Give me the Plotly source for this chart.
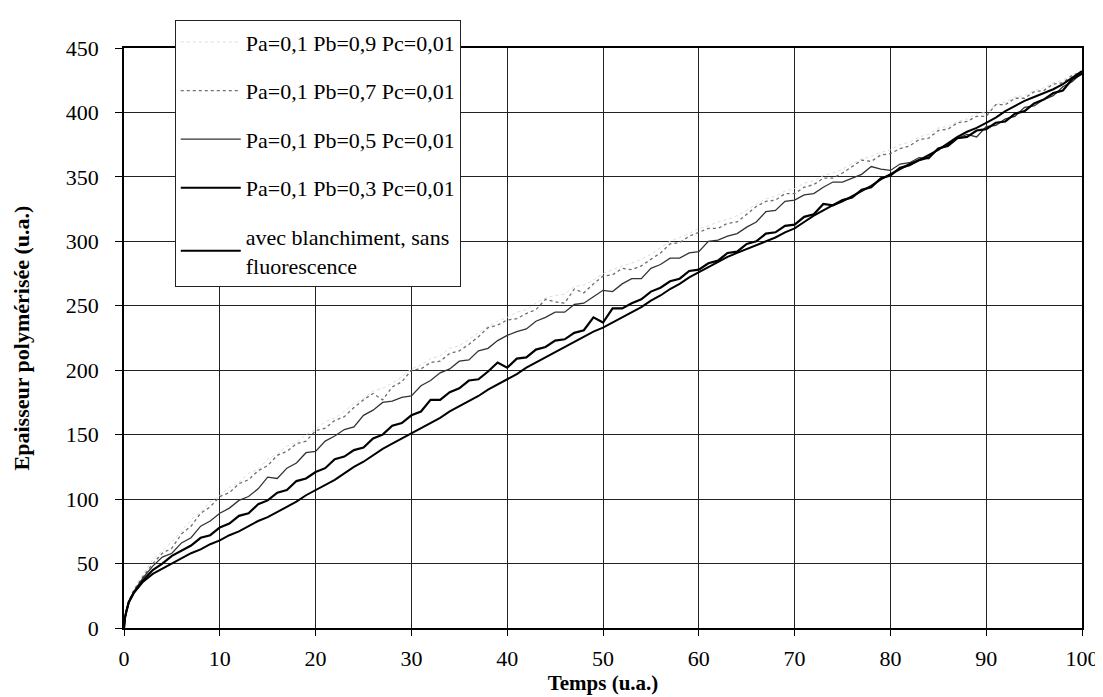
import plotly.graph_objects as go

# Sampling times (u.a.)
temps = [0, 0.1, 0.25, 0.5,
         1, 2, 3, 4, 5, 6, 7, 8, 9, 10, 11, 12, 13, 14, 15, 16, 17, 18, 19, 20,
         21, 22, 23, 24, 25, 26, 27, 28, 29, 30, 31, 32, 33, 34, 35, 36, 37, 38, 39, 40,
         41, 42, 43, 44, 45, 46, 47, 48, 49, 50, 51, 52, 53, 54, 55, 56, 57, 58, 59, 60,
         61, 62, 63, 64, 65, 66, 67, 68, 69, 70, 71, 72, 73, 74, 75, 76, 77, 78, 79, 80,
         81, 82, 83, 84, 85, 86, 87, 88, 89, 90, 91, 92, 93, 94, 95, 96, 97, 98, 99, 100]

pb09 = [0, 8, 14, 21,
        30, 42, 53, 60, 67, 75, 84, 90, 98, 103, 109, 113, 120, 123, 131, 135, 141, 144, 150, 154,
        160, 163, 168, 174, 178, 184, 186, 190, 195, 201, 204, 209, 211, 217, 219, 224, 229, 234, 238, 241,
        245, 247, 252, 256, 258, 259, 265, 266, 270, 275, 278, 281, 283, 286, 290, 295, 300, 303, 306, 310,
        312, 315, 317, 320, 324, 329, 333, 335, 339, 341, 345, 347, 351, 353, 356, 360, 364, 366, 369, 371,
        375, 377, 381, 383, 388, 389, 393, 395, 399, 400, 406, 408, 412, 413, 417, 419, 423, 425, 429, 432]

pb07 = [0, 8, 14, 21,
        29, 40, 50, 58, 62, 73, 79, 89, 94, 102, 105, 112, 115, 122, 126, 134, 137, 143, 145, 153,
        155, 161, 164, 171, 177, 182, 177, 187, 191, 200, 201, 206, 207, 213, 215, 220, 226, 233, 235, 239,
        240, 244, 247, 255, 253, 252, 263, 260, 267, 273, 274, 279, 278, 281, 286, 291, 298, 299, 304, 307,
        310, 310, 314, 315, 321, 327, 331, 332, 337, 337, 342, 344, 349, 349, 353, 358, 363, 362, 367, 368,
        372, 374, 379, 380, 386, 387, 392, 393, 397, 397, 406, 406, 411, 411, 416, 417, 422, 423, 429, 431]

pb05 = [0, 8, 13, 20,
        28, 39, 48, 55, 58, 66, 70, 79, 83, 89, 93, 99, 102, 108, 117, 116, 124, 128, 136, 137,
        145, 149, 154, 156, 165, 169, 175, 176, 179, 180, 188, 192, 198, 201, 207, 208, 215, 217, 223, 227,
        230, 232, 238, 241, 245, 245, 251, 252, 257, 262, 261, 267, 271, 271, 279, 282, 287, 287, 291, 292,
        300, 301, 304, 306, 311, 315, 323, 324, 331, 332, 336, 337, 342, 346, 346, 349, 352, 358, 356, 355,
        360, 361, 365, 364, 372, 375, 380, 383, 381, 389, 390, 395, 397, 404, 405, 410, 413, 420, 424, 431]

pb03 = [0, 8, 13, 20,
        27, 37, 45, 50, 56, 60, 64, 70, 72, 78, 81, 87, 89, 96, 99, 105, 107, 114, 116, 121,
        124, 131, 133, 138, 140, 147, 150, 157, 159, 165, 168, 177, 177, 183, 186, 192, 193, 199, 206, 202,
        209, 210, 216, 218, 223, 224, 229, 231, 241, 237, 248, 248, 252, 255, 261, 264, 269, 271, 277, 278,
        283, 285, 291, 292, 298, 300, 306, 307, 312, 313, 319, 321, 329, 328, 332, 334, 340, 342, 349, 351,
        357, 359, 363, 365, 372, 374, 380, 381, 386, 387, 392, 393, 399, 401, 407, 410, 415, 417, 426, 430]

blanchiment = [0, 8, 13, 20,
               27, 36, 42, 46, 50, 54, 58, 61, 65, 68, 72, 75, 79, 83, 86, 90, 94, 98, 103, 107,
               111, 115, 120, 125, 129, 134, 139, 143, 147, 151, 155, 159, 163, 168, 172, 176, 180, 185, 189, 193,
               197, 202, 206, 210, 214, 218, 222, 226, 230, 233, 237, 241, 245, 249, 254, 258, 263, 267, 272, 276,
               280, 284, 288, 291, 294, 297, 300, 303, 307, 310, 315, 320, 324, 328, 331, 335, 339, 343, 348, 352,
               356, 360, 363, 367, 371, 376, 381, 385, 388, 392, 396, 401, 405, 409, 412, 415, 418, 422, 427, 432]

series_names = ["Pa=0,1 Pb=0,9 Pc=0,01",
                "Pa=0,1 Pb=0,7 Pc=0,01",
                "Pa=0,1 Pb=0,5 Pc=0,01",
                "Pa=0,1 Pb=0,3 Pc=0,01",
                "avec blanchiment, sans<br>fluorescence"]

FONT = "Liberation Serif, Times New Roman, serif"

fig = go.Figure()
styles = [
    dict(color="#dcdcdc", width=1, dash="dot"),
    dict(color="#6e6e6e", width=1.3, dash="dot"),
    dict(color="#333333", width=1.3, dash="solid"),
    dict(color="#000000", width=2.2, dash="solid"),
    dict(color="#000000", width=2.0, dash="solid"),
]
data = [pb09, pb07, pb05, pb03, blanchiment]
for i, (name, ys, st) in enumerate(zip(series_names, data, styles)):
    fig.add_trace(go.Scatter(x=temps, y=ys, mode="lines", name=name, line=st,
                             legendgroup=f"g{i}"))

fig.update_layout(
    width=1103, height=697,
    margin=dict(l=116, r=23, t=34, b=77),
    paper_bgcolor="white", plot_bgcolor="white",
    font=dict(family=FONT, color="black", size=21),
    legend=dict(x=0.053, y=1.048, xanchor="left", yanchor="top",
                bgcolor="white", bordercolor="#222", borderwidth=1,
                font=dict(family=FONT, size=22, color="black"),
                tracegroupgap=17, itemwidth=60, traceorder="grouped"),
    showlegend=True,
)
fig.update_xaxes(range=[0, 100], dtick=10, tick0=0,
                 showgrid=True, gridcolor="#222", gridwidth=1,
                 showline=True, linecolor="black", linewidth=1.5, mirror=True,
                 ticks="outside", ticklen=6, tickcolor="black",
                 ticklabelstandoff=4,
                 tickfont=dict(family=FONT, size=22),
                 title=dict(text="<b>Temps (u.a.)</b>", font=dict(family=FONT, size=21), standoff=0),
                 zeroline=False)
fig.update_yaxes(range=[0, 450], dtick=50, tick0=0,
                 showgrid=True, gridcolor="#222", gridwidth=1,
                 showline=True, linecolor="black", linewidth=1.5, mirror=True,
                 ticks="outside", ticklen=7, tickcolor="black",
                 ticklabelstandoff=12,
                 tickfont=dict(family=FONT, size=22),
                 title=dict(text="<b>Epaisseur polymérisée (u.a.)</b>", font=dict(family=FONT, size=22), standoff=30),
                 zeroline=False)

fig.write_html("out.html")
